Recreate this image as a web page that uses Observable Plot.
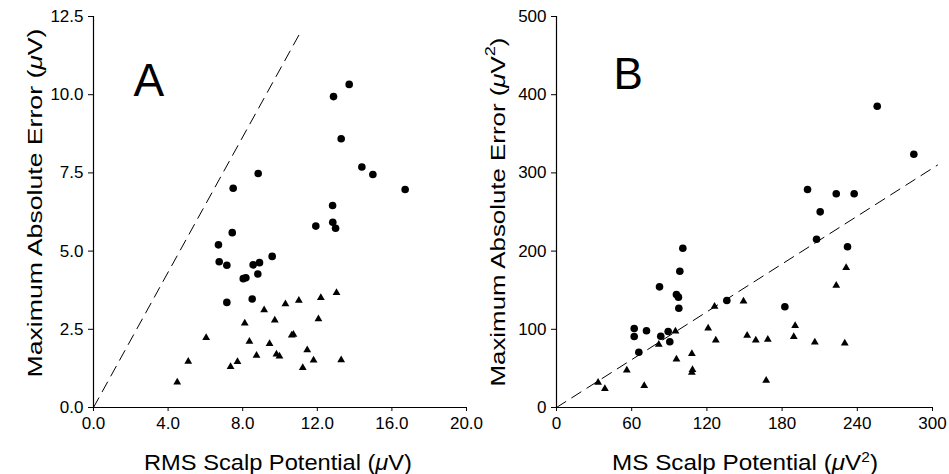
<!DOCTYPE html>
<html><head><meta charset="utf-8">
<script src="https://cdn.jsdelivr.net/npm/d3@7"></script>
<script src="https://cdn.jsdelivr.net/npm/@observablehq/plot@0.6"></script>
<style>
body{margin:0;background:#fff;}
#wrap{display:flex;width:949px;height:474px;}
#wrap svg{display:block;flex:none;}
</style></head><body><div id="wrap"></div>
<script>
// ---- Panel A data (RMS scalp potential µV vs max absolute error µV)
const aCircles = [
  [13.71,10.33],[12.87,9.94],[13.28,8.59],[14.39,7.69],[14.98,7.45],[16.71,6.97],
  [8.83,7.48],[7.49,7.01],[12.82,6.46],[11.92,5.80],[12.83,5.92],[12.98,5.73],
  [7.44,5.59],[6.70,5.20],[6.74,4.66],[7.15,4.55],[9.58,4.83],[8.56,4.56],
  [8.90,4.63],[8.81,4.27],[8.03,4.12],[8.17,4.15],[8.51,3.47],[7.15,3.36]
];
const aTriangles = [
  [13.03,3.67],[12.19,3.51],[11.01,3.42],[10.29,3.31],[9.15,3.12],[9.72,2.79],
  [12.06,2.83],[8.11,2.69],[6.04,2.23],[10.63,2.31],[10.72,2.33],[8.36,2.11],
  [9.44,2.04],[11.46,1.84],[8.74,1.66],[9.81,1.70],[9.97,1.64],[5.08,1.47],
  [7.72,1.46],[7.35,1.30],[11.80,1.51],[13.28,1.52],[11.22,1.27],[4.49,0.81]
];
const aLine = [[0,0],[11.1,12.0]];
const aXTicks = [0,4,8,12,16,20];
const aYTicks = [0,2.5,5,7.5,10,12.5];

// ---- Panel B data (MS scalp potential µV² vs max absolute error µV²)
const bCircles = [
  [255.9,385.3],[285.1,323.9],[200.3,278.8],[223.2,273.3],[237.5,273.3],
  [210.4,250.2],[207.5,215.2],[232.2,205.5],[100.8,203.7],[98.4,174.3],
  [82.2,154.3],[95.7,144.5],[97.3,141.1],[97.6,127.0],[135.9,136.8],
  [182.2,128.8],[62.0,101.0],[62.0,90.8],[71.8,98.1],[83.2,91.2],
  [89.1,97.2],[90.4,84.0],[65.7,70.7]
];
const bTriangles = [
  [231.1,178.6],[223.2,156.0],[149.2,135.9],[126.1,129.2],[190.4,104.5],
  [189.3,90.4],[121.0,101.4],[94.9,97.6],[152.1,92.1],[159.0,86.1],
  [168.6,87.0],[127.1,86.1],[206.1,83.5],[230.0,82.2],[81.6,80.6],
  [95.7,61.8],[108.0,68.7],[108.5,48.2],[108.0,44.8],[56.1,47.7],
  [167.3,34.5],[70.0,27.7],[33.2,32.0],[38.6,23.9]
];
const bLine = [[0,0],[304,310]];
const bXTicks = [0,60,120,180,240,300];
const bYTicks = [0,100,200,300,400,500];

const panelLabels = ["A","B"];

const FONT = "'Liberation Sans', Arial, Helvetica, sans-serif";

function panel(o) {
  const svg = Plot.plot({
    width: o.width, height: 474,
    marginLeft: o.marginLeft, marginRight: o.marginRight, marginTop: 16, marginBottom: 67,
    style: {fontFamily: FONT, fontSize: "17px", color: "#000", background: "transparent", overflow: "visible"},
    x: {domain: o.xDomain, label: null},
    y: {domain: o.yDomain, label: null},
    marks: [
      Plot.axisX({ticks: o.xTicks, tickFormat: o.xFmt, tickSize: 4, tickPadding: 5, label: null, fontSize: 17, stroke: "#000"}),
      Plot.axisY({ticks: o.yTicks, tickFormat: o.yFmt, tickSize: 5, tickPadding: 5, label: null, fontSize: 17, stroke: "#000"}),
      Plot.ruleY([o.yDomain[0]], {stroke: "#000", strokeWidth: 1.2}),
      Plot.ruleX([o.xDomain[0]], {stroke: "#000", strokeWidth: 1.2}),
      Plot.line(o.line, {x: d => d[0], y: d => d[1], stroke: "#000", strokeWidth: 1, strokeDasharray: "11,7"}),
      Plot.dot(o.circles, {x: d => d[0], y: d => d[1], r: 3.8, fill: "#000", stroke: "none"}),
      Plot.dot(o.triangles, {x: d => d[0], y: d => d[1], symbol: "triangle", r: 2.9, fill: "#000", stroke: "none"}),
      Plot.text([o.label], {text: d => d, frameAnchor: "top-left", textAnchor: "start", lineAnchor: "top",
        dx: o.labelDx, dy: o.labelDy, fontSize: o.labelSize, fill: "#000"})
    ]
  });
  const s = d3.select(svg);
  // Y title
  const yt = s.append("text")
    .attr("transform", `translate(${o.yTitleX},${o.yTitleY}) rotate(-90)`)
    .attr("text-anchor", "middle").attr("dominant-baseline", "central")
    .attr("font-size", 20).attr("font-family", FONT).attr("fill", "#000")
    .attr("textLength", o.yTitleLen).attr("lengthAdjust", "spacingAndGlyphs");
  o.yTitle(yt);
  // X title
  const xt = s.append("text")
    .attr("x", o.xTitleX).attr("y", 470)
    .attr("text-anchor", "middle")
    .attr("font-size", 22).attr("font-family", FONT).attr("fill", "#000")
    .attr("textLength", o.xTitleLen).attr("lengthAdjust", "spacingAndGlyphs");
  o.xTitle(xt);
  return svg;
}

const fmt1 = d => d.toFixed(1);
const fmt0 = d => String(d);

const A = panel({
  width: 474, marginLeft: 93, marginRight: 8,
  xDomain: [0,20], yDomain: [0,12.5], xTicks: aXTicks, yTicks: aYTicks, xFmt: fmt1, yFmt: fmt1,
  circles: aCircles, triangles: aTriangles, line: aLine,
  label: panelLabels[0], labelDx: 40, labelDy: 47, labelSize: 46,
  yTitleX: 35, yTitleY: 203, yTitleLen: 349, xTitleX: 278, xTitleLen: 268,
  yTitle: t => { t.append("tspan").text("Maximum Absolute Error ("); t.append("tspan").attr("font-style","italic").text("\u03bc"); t.append("tspan").text("V)"); },
  xTitle: t => { t.append("tspan").text("RMS Scalp Potential ("); t.append("tspan").attr("font-style","italic").text("\u03bc"); t.append("tspan").text("V)"); }
});
const B = panel({
  width: 475, marginLeft: 82, marginRight: 17,
  xDomain: [0,300], yDomain: [0,500], xTicks: bXTicks, yTicks: bYTicks, xFmt: fmt0, yFmt: fmt0,
  circles: bCircles, triangles: bTriangles, line: bLine,
  label: panelLabels[1], labelDx: 57, labelDy: 41, labelSize: 44,
  yTitleX: 24, yTitleY: 212, yTitleLen: 349, xTitleX: 271, xTitleLen: 266,
  yTitle: t => { t.append("tspan").text("Maximum Absolute Error ("); t.append("tspan").attr("font-style","italic").text("\u03bc"); t.append("tspan").text("V"); t.append("tspan").attr("font-size",14).attr("dy",-8).text("2"); t.append("tspan").attr("dy",8).text(")"); },
  xTitle: t => { t.append("tspan").text("MS Scalp Potential ("); t.append("tspan").attr("font-style","italic").text("\u03bc"); t.append("tspan").text("V"); t.append("tspan").attr("font-size",14).attr("dy",-8).text("2"); t.append("tspan").attr("dy",8).text(")"); }
});
document.getElementById("wrap").append(A, B);
</script>
</body></html>
